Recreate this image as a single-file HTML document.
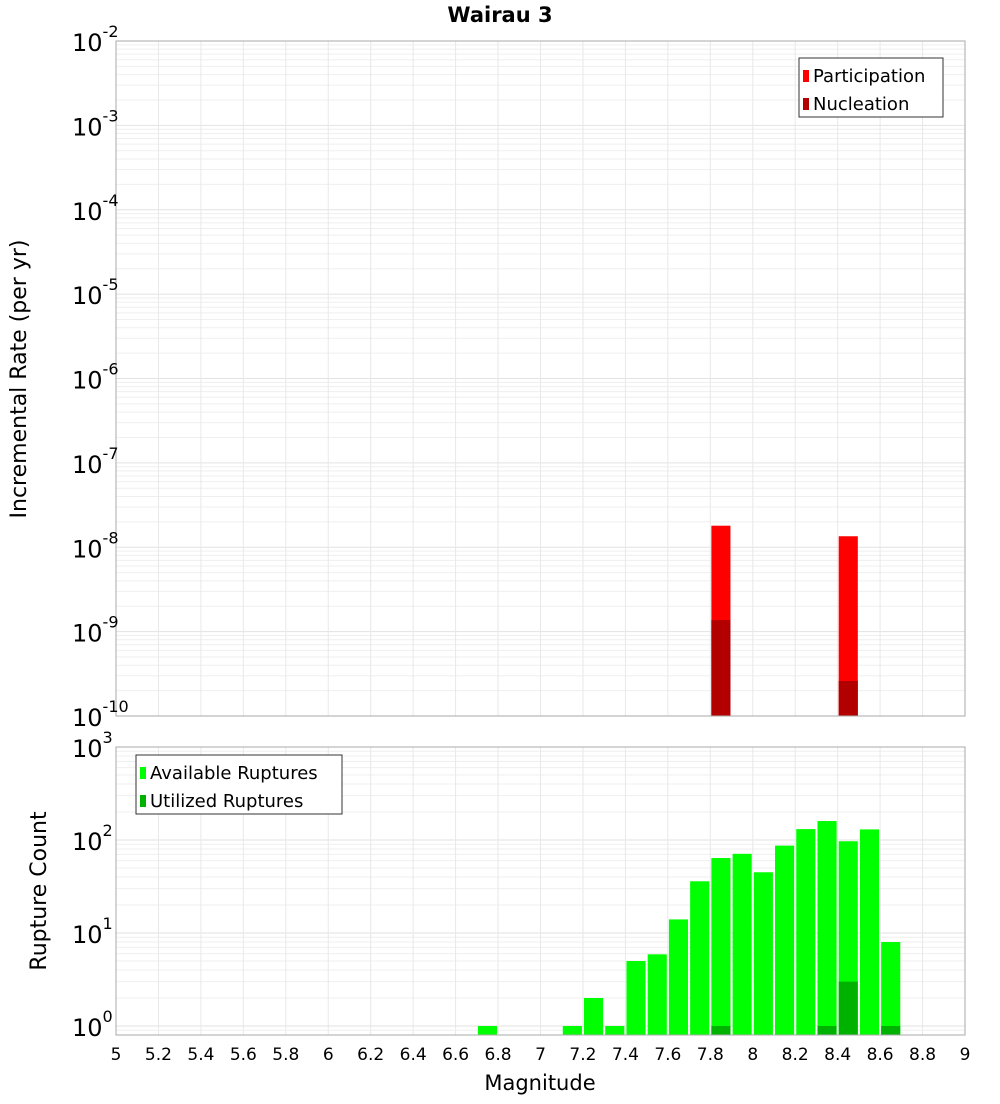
<!DOCTYPE html>
<html><head><meta charset="utf-8"><style>
body{margin:0;background:#fff;font-family:"DejaVu Sans","Liberation Sans",sans-serif;}
svg text{font-family:"DejaVu Sans","Liberation Sans",sans-serif;}
</style></head><body>
<svg id="c" width="1000" height="1100" xmlns="http://www.w3.org/2000/svg"></svg>
<script>
const bins=[6.75,7.15,7.25,7.35,7.45,7.55,7.65,7.75,7.85,7.95,8.05,8.15,8.25,8.35,8.45,8.55,8.65];
const available=[1,1,2,1,5,5.9,14,36,64,71,45,87,131,160,97,130,8];
const utilBins=[7.85,8.35,8.45,8.65];
const utilized=[1,1,3,1];
const rateBins=[7.85,8.45];
const participation=[1.8e-8,1.35e-8];
const nucleation=[1.37e-9,2.6e-10];
const xTicks=["5","5.2","5.4","5.6","5.8","6","6.2","6.4","6.6","6.8","7","7.2","7.4","7.6","7.8","8","8.2","8.4","8.6","8.8","9"];
const topExps=[-10,-9,-8,-7,-6,-5,-4,-3,-2];
const botExps=[0,1,2,3];

const svg=document.getElementById('c');const NS='http://www.w3.org/2000/svg';
function el(t,a,p){const e=document.createElementNS(NS,t);for(const k in a)e.setAttribute(k,a[k]);(p||svg).appendChild(e);return e;}
const L=116,R=965;
const X=v=>L+(v-5)/4*(R-L);
const T1=41,B1=716;const Y1=v=>B1-(Math.log10(v)+10)*(B1-T1)/8;
const T2=747,B2=1035;const dec2=93;const Y2=v=>1026-Math.log10(v)*dec2;
const bw=0.09;

function grid(top,bot,yf,emin,emax){
  const g=el('g',{});
  for(let e=emin;e<emax;e++)for(let m=1;m<10;m++){const y=yf(m*Math.pow(10,e));if(y<top||y>bot)continue;
    el('line',{x1:L,x2:R,y1:y,y2:y,stroke:m==1?'#e2e2e2':'#efefef','stroke-width':1},g);}
  for(let i=0;i<xTicks.length;i++){const x=X(+xTicks[i]);el('line',{x1:x,x2:x,y1:top,y2:bot,stroke:'#e8e8e8'},g);}
}
grid(T1,B1,Y1,-10,-2);
grid(T2,B2,Y2,-1,3);

// top bars
rateBins.forEach((b,i)=>{
  let r=el('rect',{x:X(b-bw/2),y:Y1(participation[i]),width:X(b+bw/2)-X(b-bw/2),height:B1-Y1(participation[i]),fill:'#ff0000'});
  
  r=el('rect',{x:X(b-bw/2),y:Y1(nucleation[i]),width:X(b+bw/2)-X(b-bw/2),height:B1-Y1(nucleation[i]),fill:'#b20000'});
  
});
bins.forEach((b,i)=>{
  const r=el('rect',{x:X(b-bw/2),y:Y2(available[i]),width:X(b+bw/2)-X(b-bw/2),height:B2-Y2(available[i]),fill:'#00ff00'});
  
});
utilBins.forEach((b,i)=>{
  const r=el('rect',{x:X(b-bw/2),y:Y2(utilized[i]),width:X(b+bw/2)-X(b-bw/2),height:B2-Y2(utilized[i]),fill:'#00b200'});
  
});
el('rect',{x:L,y:T1,width:R-L,height:B1-T1,fill:'none',stroke:'#aaa'});
el('rect',{x:L,y:T2,width:R-L,height:B2-T2,fill:'none',stroke:'#aaa'});

// y tick labels
function ylab(exps,yf,name){exps.forEach(e=>{const y=yf(Math.pow(10,e));
  const t=el('text',{x:112,y:y+10,'text-anchor':'end','font-size':24});
  t.textContent='10';const s=el('tspan',{dy:-14,'font-size':16},t);s.textContent=String(e);
  t.setAttribute('x',72);t.setAttribute('text-anchor','start');});}
ylab(topExps,Y1,'y-tick-top');ylab(botExps,Y2,'y-tick-bottom');
xTicks.forEach(s=>{const t=el('text',{x:X(+s),y:1060,'text-anchor':'middle','font-size':17});t.textContent=s;
  });

function txt(s,a,name){const t=el('text',a);t.textContent=s;return t;}
txt('Wairau 3',{x:500,y:22,'text-anchor':'middle','font-size':21,'font-weight':'bold'},'chart-title');
txt('Magnitude',{x:540,y:1090,'text-anchor':'middle','font-size':21},'x-axis-title');
txt('Incremental Rate (per yr)',{x:0,y:0,'text-anchor':'middle','font-size':22,transform:'translate(26,379) rotate(-90)'},'y-axis-title-top');
txt('Rupture Count',{x:0,y:0,'text-anchor':'middle','font-size':22,transform:'translate(46,891) rotate(-90)'},'y-axis-title-bottom');

// legends
function legend(x,y,w,items,name){const g=el('g',{});
  el('rect',{x:x,y:y,width:w,height:59,fill:'#fff',stroke:'#333'},g);
  items.forEach((it,i)=>{el('rect',{x:x+4,y:y+12+i*28,width:6,height:12,fill:it[1]},g);
    const t=el('text',{x:x+14,y:y+24+i*28,'font-size':18},g);t.textContent=it[0];});}
legend(799,58,144,[['Participation','#ff0000'],['Nucleation','#b20000']],'legend-top');
legend(136,755,206,[['Available Ruptures','#00ff00'],['Utilized Ruptures','#00b200']],'legend-bottom');
</script>
</body></html>
